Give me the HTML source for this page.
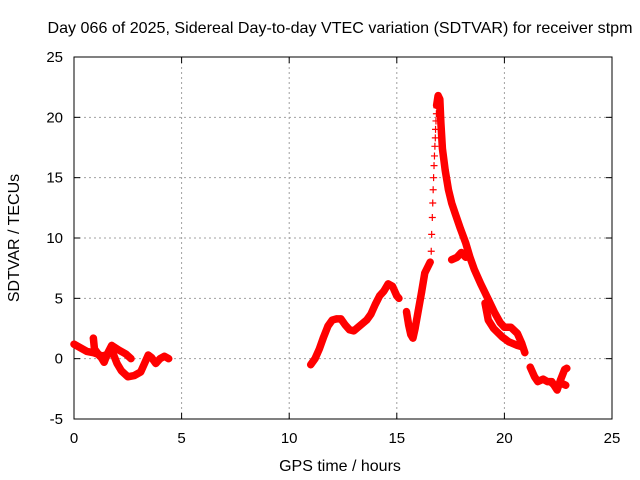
<!DOCTYPE html>
<html><head><meta charset="utf-8"><style>
body{margin:0;background:#fff}
svg{display:block;font-family:"Liberation Sans",sans-serif}
</style></head><body>
<svg id="chart" width="640" height="480">
<text x="340" y="33" text-anchor="middle" font-size="16" textLength="585" lengthAdjust="spacingAndGlyphs">Day 066 of 2025, Sidereal Day-to-day VTEC variation (SDTVAR) for receiver stpm</text>
<text x="340" y="471" text-anchor="middle" font-size="16">GPS time / hours</text>
<text transform="translate(19,238) rotate(-90)" text-anchor="middle" font-size="16">SDTVAR / TECUs</text>
<g id="grid"></g><g id="axes"></g><g id="marks"></g>
</svg>
<script>
const xTicks=[0,5,10,15,20,25];
const yTicks=[-5,0,5,10,15,20,25];
// continuous segments: [time, value]
const seg1=[[0,1.2],[0.3,0.9],[0.6,0.6],[0.9,0.5],[1.2,0.3],[1.4,-0.3],[1.55,0.4],[1.75,1.1],[2.1,0.7],[2.4,0.4],[2.65,0.0]];
const seg1b=[[0.9,1.7],[0.95,0.8],[1.2,0.2],[1.5,0.3],[1.8,0.5],[2.0,-0.4],[2.2,-1.0],[2.5,-1.5],[2.8,-1.4],[3.1,-1.1],[3.3,-0.3],[3.45,0.3],[3.6,0.1],[3.8,-0.4],[4.0,0.0],[4.2,0.2],[4.4,0.0]];
const seg2=[[11.0,-0.5],[11.2,0.0],[11.4,0.8],[11.6,1.8],[11.8,2.7],[12.0,3.2],[12.2,3.3],[12.4,3.3],[12.6,2.8],[12.8,2.4],[13.0,2.3],[13.2,2.6],[13.4,2.9],[13.6,3.2],[13.8,3.7],[14.0,4.5],[14.2,5.2],[14.4,5.6],[14.6,6.2],[14.8,6.0],[15.0,5.2],[15.1,5.0]];
const seg3=[[15.45,3.9],[15.55,2.8],[15.65,2.0],[15.75,1.7],[15.85,2.5],[16.0,4.0],[16.15,5.5],[16.3,7.1],[16.55,8.0]];
const sparseRise=[[16.6,8.9],[16.62,10.3],[16.65,11.7],[16.67,12.9],[16.69,14.0],[16.71,15.0],[16.73,16.0],[16.75,16.8],[16.77,17.6],[16.79,18.3],[16.8,19.0],[16.82,19.7],[16.84,20.3],[16.86,20.8]];
const seg4=[[16.85,21.0],[16.92,21.8],[17.0,21.5],[17.05,19.5],[17.12,17.4],[17.25,15.6],[17.4,14.0],[17.55,12.9],[17.7,12.1],[17.95,10.8],[18.2,9.6],[18.4,8.4],[18.6,7.4],[18.9,6.2],[19.2,5.1],[19.55,3.8],[19.8,3.0],[20.0,2.6],[20.3,2.6],[20.6,2.1],[20.8,1.3],[20.95,0.5]];
const seg4b=[[17.55,8.2],[17.8,8.4],[18.0,8.8],[18.2,8.4]];
const seg4c=[[19.1,4.6],[19.25,3.2],[19.5,2.5],[19.9,1.8],[20.2,1.4],[20.6,1.1],[20.8,1.0]];
const seg5=[[21.2,-0.7],[21.4,-1.5],[21.55,-1.9],[21.8,-1.7],[22.0,-1.9],[22.2,-1.9],[22.45,-2.6],[22.6,-1.8],[22.8,-0.9],[22.9,-0.8]];
const seg5b=[[22.2,-2.0],[22.45,-2.4],[22.6,-2.0],[22.85,-2.2]];
const segments=[seg1,seg1b,seg2,seg3,seg4,seg4b,seg4c,seg5,seg5b];

const L=74,R=612,T=57,B=419;
const xs=t=>L+(t-0)/(25-0)*(R-L);
const ys=v=>B-(v+5)/(30)*(B-T);
const NS="http://www.w3.org/2000/svg";
function mk(tag,attrs,parent){const e=document.createElementNS(NS,tag);for(const k in attrs)e.setAttribute(k,attrs[k]);parent.appendChild(e);return e;}
const grid=document.getElementById('grid'),axes=document.getElementById('axes'),marks=document.getElementById('marks');
xTicks.forEach(t=>{
 const x=xs(t);
 if(t>0&&t<25){const g=mk('line',{x1:x,x2:x,y1:T,y2:B,stroke:'#a0a0a0','stroke-dasharray':'2,3'},grid);
 
 }
 mk('line',{x1:x,x2:x,y1:B,y2:B-6,stroke:'#000'},axes);
 mk('line',{x1:x,x2:x,y1:T,y2:T+6,stroke:'#000'},axes);
 const lb=mk('text',{x:x,y:B+24,'text-anchor':'middle','font-size':15},axes);lb.textContent=t;
 
 
});
yTicks.forEach(v=>{
 const y=ys(v);
 if(v>-5&&v<25){const g=mk('line',{x1:L,x2:R,y1:y,y2:y,stroke:'#a0a0a0','stroke-dasharray':'2,3'},grid);
 
 }
 mk('line',{x1:L,x2:L+6,y1:y,y2:y,stroke:'#000'},axes);
 mk('line',{x1:R,x2:R-6,y1:y,y2:y,stroke:'#000'},axes);
 const lb=mk('text',{x:L-11,y:y+5,'text-anchor':'end','font-size':15},axes);lb.textContent=v;
 
 
});
const border=mk('rect',{x:L,y:T,width:R-L,height:B-T,fill:'none',stroke:'#000'},axes);


function plus(t,v){const x=xs(t),y=ys(v);
 const p=mk('path',{d:`M${x-3.5},${y}H${x+3.5}M${x},${y-3.5}V${y+3.5}`,stroke:'#f00','stroke-width':1.2,fill:'none'},marks);
 
 }
segments.forEach(s=>{
 const pl=mk('polyline',{points:s.map(p=>xs(p[0])+','+ys(p[1])).join(' '),fill:'none',stroke:'#f00','stroke-width':7.5,'stroke-linejoin':'round','stroke-linecap':'round'},marks);
 
 
 s.forEach(p=>plus(p[0],p[1]));
});
sparseRise.forEach(p=>plus(p[0],p[1]));
</script>
</body></html>
